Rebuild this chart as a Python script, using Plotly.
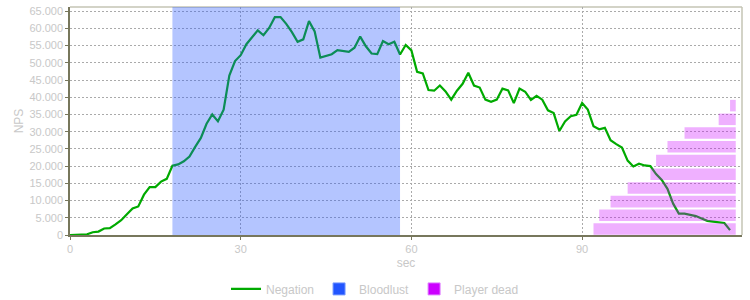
import plotly.graph_objects as go

# ---- data ----
seconds = list(range(0, 117))
negation_nps = [
    0, 0, 0, 200, 800, 1000, 1900, 2000, 3100, 4300,
    6000, 7700, 8300, 11700, 13900, 13900, 15500, 16300, 20100, 20500,
    21400, 22800, 25600, 28200, 32300, 35000, 33000, 36400, 46300, 50500,
    52200, 55400, 57400, 59400, 58000, 60100, 63250, 63250, 61300, 58900,
    56100, 56800, 62100, 59100, 51500, 52000, 52500, 53700, 53500, 53200,
    54400, 57600, 54800, 52700, 52500, 56300, 55400, 56100, 52400, 55200,
    53600, 47400, 46900, 42100, 41900, 43400, 41700, 39300, 41900, 43900,
    47100, 43400, 42800, 39300, 38700, 39300, 42500, 42000, 38300, 42500,
    41600, 39200, 40400, 39300, 36200, 35400, 30200, 33000, 34500, 34900,
    38300, 36400, 31600, 30700, 31100, 27500, 26400, 25400, 21600, 19900,
    20700, 20200, 20000, 17700, 16000, 13400, 9100, 6200, 6200, 5800,
    5500, 4800, 4100, 3900, 3700, 3500, 1400,
]
bloodlust_start = [18]
bloodlust_end = [58]
death_times = [92, 93, 95, 98, 102, 103, 105, 108, 114, 116]
fight_end = 117
x_ticks = [0, 30, 60, 90]
y_ticks = list(range(0, 65001, 5000))

# ---- styles ----
TXT = "#c8c8c8"
FONT = "Liberation Sans, Arial, sans-serif"
GREEN = "#00aa00"
BLUE = "#2255ff"
PURPLE = "#cc00ff"
BLUE_FILL = "rgba(34,85,255,0.34)"
PURPLE_FILL = "rgba(204,0,255,0.31)"
X_MAX = 118.1
Y_MAX = 66200
ROW_RANGE = [0.067, 16.69]

fig = go.Figure()

fig.add_trace(go.Scatter(
    x=seconds, y=negation_nps, mode="lines", name="Negation",
    line=dict(color=GREEN, width=2.2), showlegend=True,
))

rows = [i + 0.5 for i in range(len(death_times))]
fig.add_trace(go.Bar(
    orientation="h", y=rows, base=death_times,
    x=[fight_end - t for t in death_times], width=0.84,
    marker=dict(color=PURPLE_FILL, line=dict(width=0)),
    yaxis="y2", showlegend=False, hoverinfo="skip",
))

# legend-only entries with solid colours
fig.add_trace(go.Bar(x=[None], y=[None], name="Bloodlust",
                     marker=dict(color=BLUE, line=dict(color="#7799ff", width=1))))
fig.add_trace(go.Bar(x=[None], y=[None], name="Player dead",
                     marker=dict(color=PURPLE, line=dict(color="#e080ff", width=1))))

for s, e in zip(bloodlust_start, bloodlust_end):
    fig.add_shape(type="rect", xref="x", yref="paper", x0=s, x1=e, y0=0, y1=1,
                  fillcolor=BLUE_FILL, line=dict(width=0), layer="above")

# top / right frame
fig.add_shape(type="line", xref="paper", yref="paper", x0=0, x1=1, y0=1, y1=1,
              line=dict(color="#c4c4b4", width=1.5), layer="below")
fig.add_shape(type="line", xref="paper", yref="paper", x0=1, x1=1, y0=0, y1=1,
              line=dict(color="#c4c4b4", width=1.5), layer="below")

fig.update_layout(
    width=750, height=300,
    margin=dict(l=70, r=8, t=5, b=65),
    paper_bgcolor="white", plot_bgcolor="white",
    separators=",.",
    font=dict(family=FONT, size=11, color=TXT),
    barmode="overlay",
    xaxis=dict(
        range=[0, X_MAX], tickvals=x_ticks, showgrid=True,
        gridcolor="#aaaaaa", griddash="2px,2px", gridwidth=1,
        showline=True, linecolor="#77775c", linewidth=1.5,
        ticks="outside", ticklen=3, tickcolor="#77775c",
        tickfont=dict(size=11, color=TXT), zeroline=False,
        title=dict(text="sec", font=dict(size=12, color=TXT), standoff=5),
    ),
    yaxis=dict(
        range=[0, Y_MAX], tickvals=y_ticks, tickformat=",d", showgrid=True,
        gridcolor="#aaaaaa", griddash="2px,2px", gridwidth=1,
        showline=True, linecolor="#77775c", linewidth=1.5,
        ticks="outside", ticklen=3, tickcolor="#77775c",
        tickfont=dict(size=11, color=TXT), zeroline=False,
        title=dict(text="NPS", font=dict(size=12, color=TXT), standoff=3),
    ),
    yaxis2=dict(range=ROW_RANGE, overlaying="y", visible=False, fixedrange=True),
    legend=dict(
        orientation="h", xref="container", yref="container",
        x=0.5, xanchor="center", y=0.037, yanchor="middle",
        font=dict(size=12, color=TXT), itemwidth=30,
        bgcolor="rgba(0,0,0,0)", tracegroupgap=0,
    ),
)

fig.write_html("out.html")
